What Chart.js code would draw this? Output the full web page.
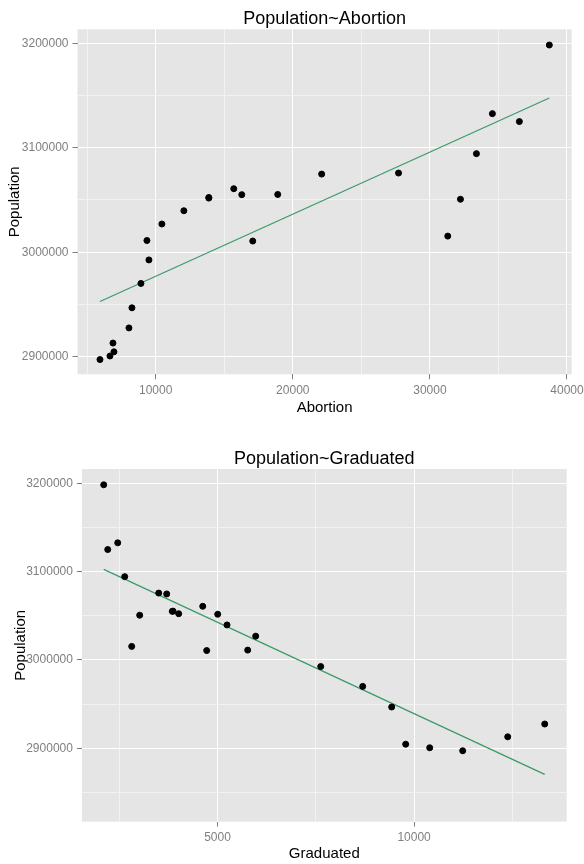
<!DOCTYPE html>
<html>
<head>
<meta charset="utf-8">
<script src="https://cdn.jsdelivr.net/npm/chart.js@4"></script>
<style>
  html, body { margin: 0; padding: 0; background: #fff; }
  #wrap { position: relative; width: 584px; height: 864px; }
  canvas { position: absolute; left: 0; }
</style>
</head>
<body>
<div id="wrap">
  <canvas id="abortionChart" width="584" height="432" style="top:0"></canvas>
  <canvas id="graduatedChart" width="584" height="432" style="top:432px"></canvas>
</div>
<script>
// one row per observation, same order in every array
const population = [2897200, 2900600, 2904600, 2913000, 2927500, 2946750, 2970100, 2992600, 3011200, 3027000,
                    3039700, 3052400, 3051800, 3060800, 3055100, 3010700, 3055300, 3074800, 3075800, 3015400,
                    3050700, 3094400, 3132700, 3125100, 3198400];
const abortion   = [5936, 6664, 6956, 6883, 8048, 8267, 8922, 9505, 9359, 10452,
                    12054, 13875, 13875, 15695, 16278, 17079, 18900, 22105, 27713, 31303,
                    32228, 33394, 34559, 36526, 38711];
const graduated  = [11236, 10397, 9786, 12381, 13322, 9430, 8693, 7625, 5768, 5971,
                    5242, 4013, 5005, 4624, 3850, 4725, 3870, 3708, 3505, 2818,
                    3021, 2640, 2462, 2208, 2106];

// tick labels (major) and the minor grid lines between them
const popMajor = [2900000, 3000000, 3100000, 3200000];
const popMinorTop = [2950000, 3050000, 3150000];
const popMinorBottom = [2850000, 2950000, 3050000, 3150000];
const abortionMajor = [10000, 20000, 30000, 40000];
const abortionMinor = [5000, 15000, 25000, 35000];
const graduatedMajor = [5000, 10000];
const graduatedMinor = [2500, 7500, 12500];

const FONT = "'Liberation Sans', Arial, sans-serif";
const LINE_GREEN = '#3a9a68';

// least squares fit, like geom_smooth(method = lm)
function fitLine(xs, ys) {
    const n = xs.length;
    const mx = xs.reduce((a, b) => a + b, 0) / n;
    const my = ys.reduce((a, b) => a + b, 0) / n;
    let sxy = 0, sxx = 0;
    for (let i = 0; i < n; i++) {
        sxy += (xs[i] - mx) * (ys[i] - my);
        sxx += (xs[i] - mx) * (xs[i] - mx);
    }
    const b = sxy / sxx;
    const a = my - b * mx;
    const lo = Math.min(...xs), hi = Math.max(...xs);
    return [{ x: lo, y: a + b * lo }, { x: hi, y: a + b * hi }];
}

const panelBg = {
    id: 'panelBg',
    beforeDraw(chart) {
        const { ctx, chartArea: a } = chart;
        ctx.save();
        ctx.fillStyle = '#e5e5e5';
        ctx.fillRect(a.left, a.top, a.right - a.left, a.bottom - a.top);
        ctx.restore();
    }
};

function axis(major, minor, min, max, title, titlePad, size, horizontal) {
    const all = major.concat(minor).sort((a, b) => a - b);
    const isMajor = v => major.includes(v);
    return {
        type: 'linear',
        min: min,
        max: max,
        afterBuildTicks: s => { s.ticks = all.map(v => ({ value: v })); },
        afterFit: s => {
            if (horizontal) s.height = size; else s.width = size;
            s.paddingLeft = s.paddingRight = s.paddingTop = s.paddingBottom = 0;
        },
        border: { display: false },
        grid: {
            color: c => (c.tick && isMajor(c.tick.value)) ? '#ffffff' : '#f2f2f2',
            lineWidth: 1,
            tickLength: 5,
            tickColor: c => (c.tick && isMajor(c.tick.value)) ? '#7f7f7f' : 'rgba(0,0,0,0)'
        },
        ticks: {
            autoSkip: false,
            maxRotation: 0,
            padding: 4,
            color: '#7f7f7f',
            font: { family: FONT, size: 12 },
            callback: v => isMajor(v) ? String(v) : ''
        },
        title: {
            display: true,
            text: title,
            color: '#000',
            font: { family: FONT, size: 15, lineHeight: 1.2 },
            padding: titlePad
        }
    };
}

function makeChart(id, xs, title, xTitle, cfg) {
    const points = xs.map((x, i) => ({ x: x, y: population[i] }));
    new Chart(document.getElementById(id).getContext('2d'), {
        type: 'scatter',
        data: {
            datasets: [{
                data: points,
                backgroundColor: '#000',
                borderColor: '#000',
                pointRadius: 3,
                pointHoverRadius: 3
            }, {
                data: fitLine(xs, population),
                showLine: true,
                borderColor: LINE_GREEN,
                borderWidth: 1.2,
                pointRadius: 0,
                fill: false
            }]
        },
        options: {
            responsive: false,
            animation: false,
            events: [],
            layout: { padding: { left: 0, right: cfg.right, top: 0, bottom: 0 } },
            plugins: {
                legend: { display: false },
                tooltip: { enabled: false },
                title: {
                    display: true,
                    text: title,
                    fullSize: false,
                    color: '#000',
                    font: { family: FONT, size: 18, weight: 'normal', lineHeight: 1 },
                    padding: cfg.titlePad
                }
            },
            scales: {
                x: axis(cfg.xMajor, cfg.xMinor, cfg.xMin, cfg.xMax, xTitle,
                        { top: 0, bottom: cfg.xTitleBottom }, cfg.xHeight, true),
                y: axis(popMajor, cfg.yMinor, cfg.yMin, cfg.yMax, 'Population',
                        { top: cfg.yTitleTop, bottom: 0 }, cfg.yWidth, false)
            }
        },
        plugins: [panelBg]
    });
}

makeChart('abortionChart', abortion, 'Population~Abortion', 'Abortion', {
    right: 12.3, titlePad: { top: 10, bottom: 1.3 },
    xMajor: abortionMajor, xMinor: abortionMinor, xMin: 4296, xMax: 40343,
    yMinor: popMinorTop, yMin: 2883080, yMax: 3213460,
    xHeight: 57.7, xTitleBottom: 15, yWidth: 77.5, yTitleTop: 6
});

makeChart('graduatedChart', graduated, 'Population~Graduated', 'Graduated', {
    right: 17.3, titlePad: { top: 18.3, bottom: 0.7 },
    xMajor: graduatedMajor, xMinor: graduatedMinor, xMin: 1551, xMax: 13881,
    yMinor: popMinorBottom, yMin: 2816880, yMax: 3216300,
    xHeight: 42.3, xTitleBottom: 0.7, yWidth: 81.9, yTitleTop: 11.5
});
</script>
</body>
</html>
